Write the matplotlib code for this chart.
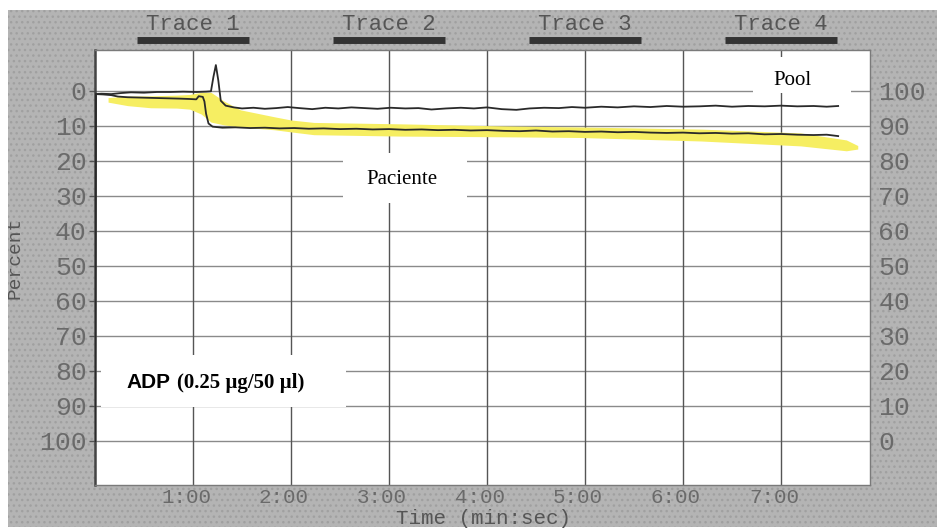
#!/usr/bin/env python3
"""Platelet aggregation traces (ADP) - Pool vs Paciente."""

import matplotlib
matplotlib.use("Agg")
import matplotlib.pyplot as plt
import matplotlib.transforms as mtransforms
from matplotlib.patches import Rectangle

# ---- Data (time in seconds, percent) ----
pool_trace = [
    (0, 100), (0.5, 0.9), (4, 0.8), (10, 0.9), (16, 0.6), (22, 0.4), (30, 0.5),
    (38, 0.3), (46, 0.3), (54, 0.2), (62, 0.3), (68, 0.2), (71, 0.1),
    (72.5, -4.0), (74, -7.4), (75.5, -3.0), (77, 2.8), (80, 4.2), (85, 4.7),
    (90, 5.0), (97, 4.8), (104, 5.1), (111, 4.9), (118, 4.6), (125, 4.9),
    (133, 5.2), (141, 4.8), (149, 5.0), (157, 4.7), (165, 4.9), (173, 5.1),
    (181, 4.8), (190, 5.0), (198, 4.9), (206, 5.3), (215, 5.0), (224, 4.8),
    (232, 5.0), (240, 4.7), (249, 5.2), (258, 5.4), (266, 5.0), (275, 4.8),
    (284, 4.9), (292, 4.6), (300, 4.8), (310, 4.5), (320, 4.7), (330, 4.4),
    (340, 4.6), (350, 4.3), (360, 4.5), (370, 4.4), (380, 4.2), (390, 4.5),
    (400, 4.3), (410, 4.4), (420, 4.2), (430, 4.4), (440, 4.3), (448, 4.5),
    (455, 4.3),
]

paciente_trace = [
    (0, 100), (0.5, 0.9), (5, 1.0), (10, 1.2), (14, 1.6), (20, 1.8), (28, 1.9),
    (36, 2.0), (44, 2.1), (52, 2.2), (58, 2.3), (62, 2.4), (63.5, 1.5),
    (66, 1.7), (67, 3.0), (68, 6.5), (69.5, 9.3), (72, 10.2), (78, 10.5),
    (86, 10.4), (95, 10.6), (104, 10.5), (113, 10.7), (122, 10.6), (131, 10.8),
    (140, 10.7), (150, 10.9), (160, 10.8), (170, 11.0), (180, 10.9),
    (190, 11.1), (200, 11.0), (210, 11.2), (220, 11.1), (230, 11.3),
    (240, 11.2), (250, 11.4), (260, 11.5), (270, 11.3), (280, 11.6),
    (290, 11.5), (300, 11.7), (310, 11.6), (320, 11.8), (330, 11.7),
    (340, 11.9), (350, 12.0), (360, 11.9), (370, 12.1), (380, 12.0),
    (390, 12.2), (400, 12.1), (410, 12.4), (420, 12.3), (430, 12.5),
    (440, 12.6), (448, 12.5), (455, 12.9),
]

# yellow highlighter band: (time, top, bottom)
highlight_band = [
    (8, 1.9, 3.2), (20, 1.5, 4.2), (34, 1.4, 4.8), (50, 1.2, 4.9),
    (58, 1.0, 5.2), (65, 0.4, 6.6), (71, 0.4, 8.9), (79, 2.9, 9.7),
    (89, 5.4, 10.3), (110, 7.4, 11.1), (120, 8.3, 11.7), (134, 9.0, 12.5),
    (187, 9.4, 12.9), (250, 10.0, 13.1), (297, 10.3, 13.3), (371, 10.9, 14.3),
    (432, 12.0, 15.7), (460, 14.0, 17.1), (467, 15.6, 16.6),
]

left_ticks = [0, 10, 20, 30, 40, 50, 60, 70, 80, 90, 100]
right_labels = ["100", "90", "80", "70", "60", "50", "40", "30", "20", "10", "0"]
time_ticks = [60, 120, 180, 240, 300, 360, 420]
time_labels = ["1:00", "2:00", "3:00", "4:00", "5:00", "6:00", "7:00"]
trace_titles = ["Trace 1", "Trace 2", "Trace 3", "Trace 4"]
trace_title_pos = [60, 180, 300, 420]

MONO = "Liberation Mono"
LABEL_C = "#6a6a6a"

# ---- Figure ----
fig = plt.figure(figsize=(9.4, 5.3), dpi=100, facecolor="white")
fig.patches.append(Rectangle((8 / 940, 3 / 530), 929 / 940, 517 / 530,
                             transform=fig.transFigure, facecolor="#b4b4b4",
                             edgecolor="#a0a0a0", hatch="...", linewidth=0,
                             zorder=-10))

ax = fig.add_axes([95 / 940, 45 / 530, 775 / 940, 435 / 530])
ax.set_zorder(2)
ax.set_facecolor("white")
ax.set_xlim(0, 474.5)
ax.set_ylim(112.6, -11.7)

# grid
for v in left_ticks:
    ax.axhline(v, color="#8a8a8a", linewidth=1.0, zorder=1)
for t in time_ticks:
    ax.axvline(t, color="#555555", linewidth=1.0, zorder=1)

# highlighter
bt = [p[0] for p in highlight_band]
ax.fill_between(bt, [p[1] for p in highlight_band], [p[2] for p in highlight_band],
                color="#f6ee62", linewidth=0, zorder=2)

# traces
ax.plot([p[0] for p in pool_trace], [p[1] for p in pool_trace],
        color="#2a2a2a", linewidth=1.3, zorder=4)
ax.plot([p[0] for p in paciente_trace], [p[1] for p in paciente_trace],
        color="#2a2a2a", linewidth=1.3, zorder=4)

# white label boxes
ax.add_patch(Rectangle((403, -9.7), 60, 10.3, facecolor="white", edgecolor="none", zorder=3))
ax.add_patch(Rectangle((152, 17.7), 76, 14.3, facecolor="white", edgecolor="none", zorder=3))
ax.add_patch(Rectangle((3.7, 75.4), 150, 14.9, facecolor="white", edgecolor="none", zorder=3))

ax.text(427, -2.9, "Pool", family="Liberation Serif", fontsize=15,
        ha="center", va="center", zorder=5)
ax.text(188, 25.4, "Paciente", family="Liberation Serif", fontsize=15,
        ha="center", va="center", zorder=5)
ax.text(19, 83.4, "ADP", family="Liberation Sans", fontweight="bold",
        fontsize=15, ha="left", va="center", zorder=5)
ax.text(50.5, 83.4, "(0.25 µg/50 µl)", family="Liberation Serif",
        fontweight="bold", fontsize=15, ha="left", va="center", zorder=5)

# axes styling
for s in ax.spines.values():
    s.set_color("#7a7a7a")
    s.set_linewidth(1.0)
ax.spines["left"].set_color("#444444")
ax.spines["left"].set_linewidth(1.8)

ax.set_yticks(left_ticks)
ax.set_yticklabels([str(v) for v in left_ticks])
ax.tick_params(axis="y", length=4, width=1, color="#555555", pad=2,
               labelsize=19, labelcolor=LABEL_C)
ax.set_xticks(time_ticks)
ax.set_xticklabels(time_labels)
ax.tick_params(axis="x", length=0, pad=2, labelsize=15, labelcolor=LABEL_C)
shift = mtransforms.ScaledTranslation(-7 / 100, 0, fig.dpi_scale_trans)
for lab in ax.get_xticklabels():
    lab.set_transform(lab.get_transform() + shift)
for lab in ax.get_xticklabels() + ax.get_yticklabels():
    lab.set_family(MONO)

ax2 = ax.twinx()
ax2.set_zorder(2)
ax2.set_ylim(112.6, -11.7)
ax2.set_yticks(left_ticks)
ax2.set_yticklabels(right_labels)
ax2.tick_params(axis="y", length=0, pad=6, labelsize=19, labelcolor=LABEL_C)
for lab in ax2.get_yticklabels():
    lab.set_family(MONO)
for s in ax2.spines.values():
    s.set_visible(False)

# trace headers with underline bars
trans = mtransforms.blended_transform_factory(ax.transData, ax.transAxes)
for name, t in zip(trace_titles, trace_title_pos):
    ax.text(t, 1.058, name, transform=trans, family=MONO, fontsize=16,
            color="#555555", ha="center", va="center", clip_on=False)
    ax.plot([t - 34, t + 34], [1.024, 1.024], transform=trans, color="#333333",
            linewidth=5, solid_capstyle="butt", clip_on=False)

fig.text(483 / 940, 1 - 518 / 530, "Time (min:sec)", family=MONO, fontsize=15,
         color="#555555", ha="center", va="center")
fig.text(15 / 940, 1 - 258 / 530, "Percent", family=MONO, fontsize=14,
         color="#555555", ha="center", va="center", rotation=90)

fig.savefig("out.png", dpi=100, facecolor="white")
plt.close(fig)
